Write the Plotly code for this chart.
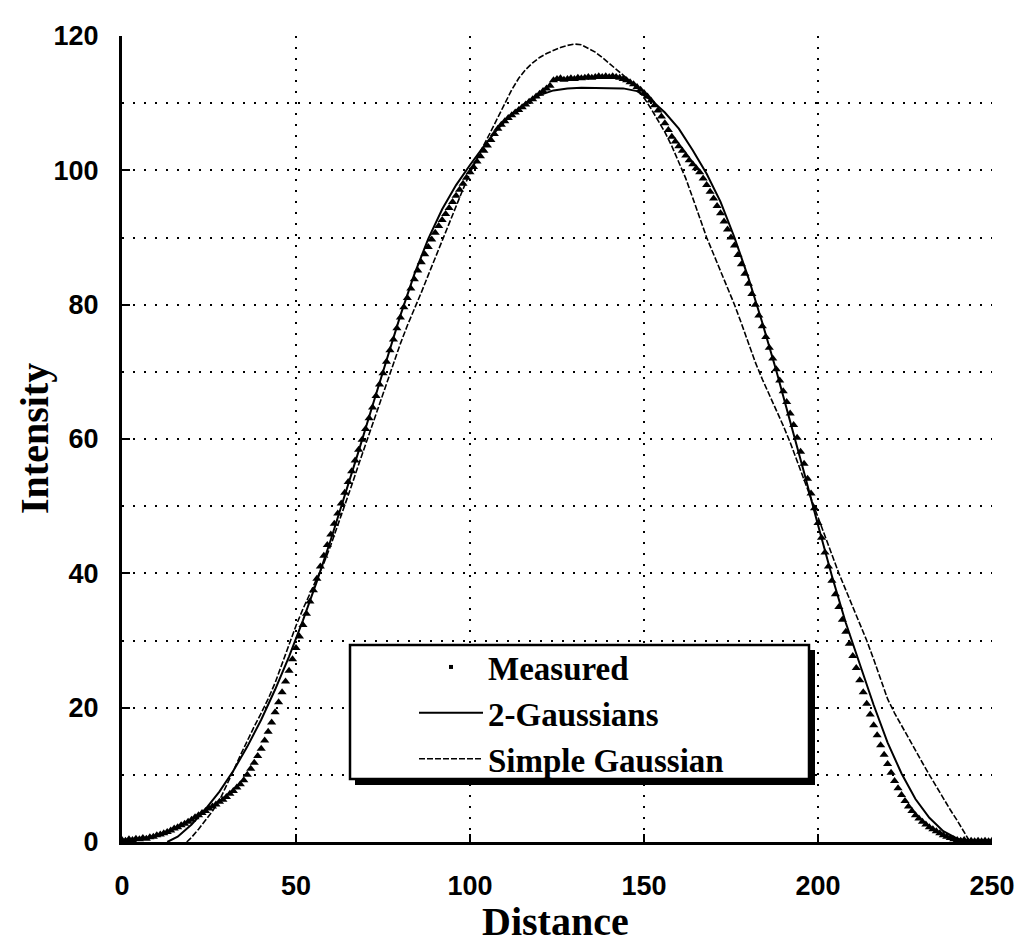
import plotly.graph_objects as go

# ---------------- data ----------------
measured_x = list(range(0, 251))
measured_y = [
    0.3, 0.2, 0.4, 0.3, 0.5, 0.4, 0.6, 0.5, 0.7, 0.8,
    1.0, 1.1, 1.3, 1.5, 1.7, 2.0, 2.2, 2.5, 2.7, 3.0,
    3.3, 3.7, 4.0, 4.3, 4.6, 5.0, 5.3, 5.6, 6.0, 6.3,
    6.7, 7.2, 7.6, 8.1, 8.6, 9.2, 10.0, 10.9, 11.8, 12.8,
    13.9, 15.1, 16.4, 17.8, 19.3, 20.8, 22.3, 23.9, 25.5, 27.2,
    28.9, 30.6, 32.3, 34.0, 35.8, 37.5, 39.2, 41.0, 42.6, 44.2,
    45.8, 47.4, 48.9, 50.4, 52.0, 53.6, 55.2, 56.8, 58.4, 59.9,
    61.5, 63.1, 64.7, 66.4, 68.1, 69.8, 71.5, 73.2, 74.8, 76.5,
    78.1, 79.6, 81.0, 82.4, 83.8, 85.1, 86.3, 87.5, 88.6, 89.7,
    90.7, 91.7, 92.6, 93.5, 94.4, 95.3, 96.2, 97.1, 98.0, 98.9,
    99.7, 100.5, 101.3, 102.1, 102.9, 103.7, 104.5, 105.4, 106.2, 106.8,
    107.3, 107.8, 108.2, 108.6, 109.0, 109.4, 109.8, 110.2, 110.6, 111.0,
    111.4, 111.8, 112.2, 112.6, 113.4, 113.6, 113.7, 113.5, 113.6, 113.7,
    113.6, 113.8, 113.7, 113.8, 113.9, 113.8, 113.9, 114.0, 113.9, 114.0,
    113.9, 114.0, 113.9, 113.8, 113.6, 113.4, 113.1, 112.8, 112.4, 112.0,
    111.5, 111.0, 110.4, 109.7, 108.9, 108.0, 107.0, 106.0, 105.0, 104.3,
    103.6, 102.9, 102.2, 101.5, 100.9, 100.3, 99.7, 98.8, 97.8, 96.8,
    95.8, 94.7, 93.6, 92.4, 91.2, 90.0, 88.8, 87.4, 86.0, 84.6,
    83.1, 81.6, 80.0, 78.4, 76.8, 75.2, 73.6, 72.0, 70.4, 68.7,
    67.1, 65.5, 63.8, 62.1, 60.2, 58.1, 56.3, 54.1, 51.9, 49.7,
    47.5, 45.3, 43.1, 41.0, 38.9, 36.9, 35.0, 33.1, 31.3, 29.5,
    27.7, 25.9, 24.1, 22.3, 20.6, 19.0, 17.4, 15.9, 14.4, 13.0,
    11.6, 10.3, 9.1, 8.0, 7.0, 6.1, 5.3, 4.6, 4.0, 3.5,
    3.0, 2.6, 2.2, 1.9, 1.6, 1.3, 1.0, 0.8, 0.6, 0.4,
    0.3, 0.2, 0.3, 0.1, 0.2, 0.1, 0.2, 0.1, 0.2, 0.1, 0.2,
]

two_gauss_x = [13, 16, 20, 24, 28, 32, 36, 40, 44, 48, 52, 56, 60, 64, 68, 72,
               76, 80, 84, 88, 92, 96, 100, 104, 108, 112, 116, 120, 124, 128,
               132, 136, 140, 144, 148, 152, 156, 160, 164, 168, 172, 176, 180,
               184, 188, 192, 196, 200, 204, 208, 212, 216, 220, 224, 228, 232,
               236, 240, 243]
two_gauss_y = [0.0, 0.8, 2.6, 4.9, 7.5, 10.6, 14.2, 18.2, 22.7, 27.6, 33.0, 38.8,
               45.0, 51.5, 58.2, 65.0, 71.8, 78.4, 84.5, 89.8, 94.2, 97.8, 100.8,
               103.6, 106.2, 108.4, 110.0, 111.2, 111.9, 112.2, 112.3, 112.3,
               112.3, 112.2, 111.8, 110.5, 108.6, 106.2, 103.0, 99.5, 95.3, 90.0,
               84.0, 77.3, 70.2, 62.8, 55.0, 47.2, 39.6, 32.6, 26.5, 20.4, 14.8,
               10.2, 6.4, 3.6, 1.6, 0.5, 0.0]

simple_x = [18.6, 20, 22, 24, 26, 28, 30, 32, 34, 36, 38, 40, 42, 44, 46, 48, 50,
            52, 54, 56, 58, 60, 62, 64, 66, 68, 70, 72, 74, 76, 78, 80, 82, 84,
            86, 88, 90, 92, 94, 96, 98, 100, 102, 104, 106, 108, 110, 112, 114,
            116, 118, 120, 122, 124, 126, 128, 130, 132, 134, 136, 138, 140, 142,
            144, 146, 148, 150, 152, 154, 156, 158, 160, 162, 164, 166, 168, 170,
            172, 174, 176, 178, 180, 182, 184, 186, 188, 190, 192, 194, 196, 198,
            200, 202, 204, 206, 208, 210, 212, 214, 216, 218, 220, 222, 224, 226,
            228, 230, 232, 234, 236, 238, 240, 242, 243.7]
simple_y = [0.0, 0.7, 1.9, 3.2, 4.6, 6.2, 8.3, 10.6, 12.9, 15.1, 17.2, 19.2, 21.3,
            23.7, 26.6, 29.6, 32.2, 34.7, 37.0, 39.2, 41.5, 44.2, 47.1, 50.0, 53.1,
            56.2, 59.2, 62.4, 65.5, 68.5, 71.4, 74.2, 76.9, 79.3, 81.8, 84.4, 87.0,
            89.6, 92.2, 94.7, 97.2, 99.6, 101.8, 103.8, 105.8, 107.8, 110.0, 112.0,
            113.7, 115.0, 116.0, 116.8, 117.4, 117.9, 118.3, 118.6, 118.8, 118.7,
            118.2, 117.6, 116.8, 115.9, 115.0, 114.2, 113.3, 112.2, 110.8, 109.2,
            107.5, 105.7, 103.6, 101.3, 98.8, 95.9, 92.8, 90.0, 87.5, 85.0, 82.5,
            80.0, 77.2, 74.3, 71.4, 68.9, 66.6, 64.4, 62.0, 59.5, 56.7, 53.8, 50.9,
            48.1, 45.3, 42.6, 40.0, 37.5, 35.0, 32.5, 30.0, 27.2, 24.2, 21.3, 19.2,
            17.3, 15.5, 13.7, 11.8, 10.0, 8.2, 6.5, 4.8, 3.2, 1.5, 0.0]

x_ticks = [0, 50, 100, 150, 200, 250]
y_ticks = [0, 20, 40, 60, 80, 100, 120]
legend_names = ["Measured", "2-Gaussians", "Simple Gaussian"]
x_title = "Distance"
y_title = "Intensity"

# ---------------- layout geometry ----------------
W, H = 1017, 946
ML, MR, MT, MB = 122, 25, 36, 104
PW, PH = W - ML - MR, H - MT - MB


def px_to_paper(px, py):
    return (px - ML) / PW, (H - MB - py) / PH


fig = go.Figure()

fig.add_trace(go.Scatter(
    x=measured_x, y=measured_y, mode="markers", name=legend_names[0],
    marker=dict(symbol="triangle-up", size=8, color="black"),
    showlegend=False,
))
fig.add_trace(go.Scatter(
    x=[None], y=[None], mode="markers", name=legend_names[0],
    marker=dict(symbol="square", size=4, color="black"),
))
fig.add_trace(go.Scatter(
    x=two_gauss_x, y=two_gauss_y, mode="lines", name=legend_names[1],
    line=dict(color="black", width=2),
))
fig.add_trace(go.Scatter(
    x=simple_x, y=simple_y, mode="lines", name=legend_names[2],
    line=dict(color="black", width=1.6, dash="6px,2px"),
))

grid = dict(gridcolor="black", gridwidth=1.5, griddash="2px,9px")
tickfont = dict(family="Liberation Sans, Arial, sans-serif", size=27,
                color="black", weight="bold")
titlefont = dict(family="Liberation Serif, Times New Roman, serif", size=40,
                 color="black", weight="bold")

fig.update_xaxes(
    range=[0, 250], tickvals=x_ticks, ticktext=[str(v) for v in x_ticks],
    showgrid=True, **grid, zeroline=False, automargin=False,
    showline=True, linecolor="black", linewidth=3,
    ticks="inside", ticklen=8, tickwidth=2, tickcolor="black",
    tickfont=tickfont, ticklabelstandoff=18,
)
fig.update_yaxes(
    range=[0, 120], tickvals=y_ticks, ticktext=[str(v) for v in y_ticks],
    showgrid=True, **grid, zeroline=False, automargin=False,
    minor=dict(dtick=10, showgrid=True, **grid),
    showline=True, linecolor="black", linewidth=3,
    ticks="inside", ticklen=8, tickwidth=2, tickcolor="black",
    tickfont=tickfont, ticklabelstandoff=15,
)

# axis titles placed as annotations
ax_x, ax_y = px_to_paper(555, 921)
fig.add_annotation(text=x_title, xref="paper", yref="paper", x=ax_x, y=ax_y,
                   xanchor="center", yanchor="middle", showarrow=False,
                   font=titlefont)
ty_x, ty_y = px_to_paper(34, 439)
fig.add_annotation(text=y_title, xref="paper", yref="paper", x=ty_x, y=ty_y,
                   xanchor="center", yanchor="middle", textangle=-90,
                   showarrow=False, font=titlefont)

# legend frame with drop shadow
bx0, by0 = px_to_paper(350, 645)
bx1, by1 = px_to_paper(809, 779)
sx0, sy0 = px_to_paper(355, 650)
sx1, sy1 = px_to_paper(815, 785)
fig.add_shape(type="rect", xref="paper", yref="paper", x0=sx0, y0=sy0,
              x1=sx1, y1=sy1, fillcolor="black", line=dict(width=0),
              layer="above")
fig.add_shape(type="rect", xref="paper", yref="paper", x0=bx0, y0=by0,
              x1=bx1, y1=by1, fillcolor="white",
              line=dict(color="black", width=2.5), layer="above")

lx, ly = px_to_paper(414, 639)
fig.update_layout(
    width=W, height=H,
    margin=dict(l=ML, r=MR, t=MT, b=MB, autoexpand=False),
    paper_bgcolor="white", plot_bgcolor="white",
    showlegend=True,
    legend=dict(
        x=lx, y=ly, xanchor="left", yanchor="top",
        bgcolor="rgba(0,0,0,0)", borderwidth=0,
        itemwidth=64, tracegroupgap=0,
        font=dict(family="Liberation Serif, Times New Roman, serif", size=33,
                  color="black", weight="bold"),
    ),
)

fig.write_html("out.html")
